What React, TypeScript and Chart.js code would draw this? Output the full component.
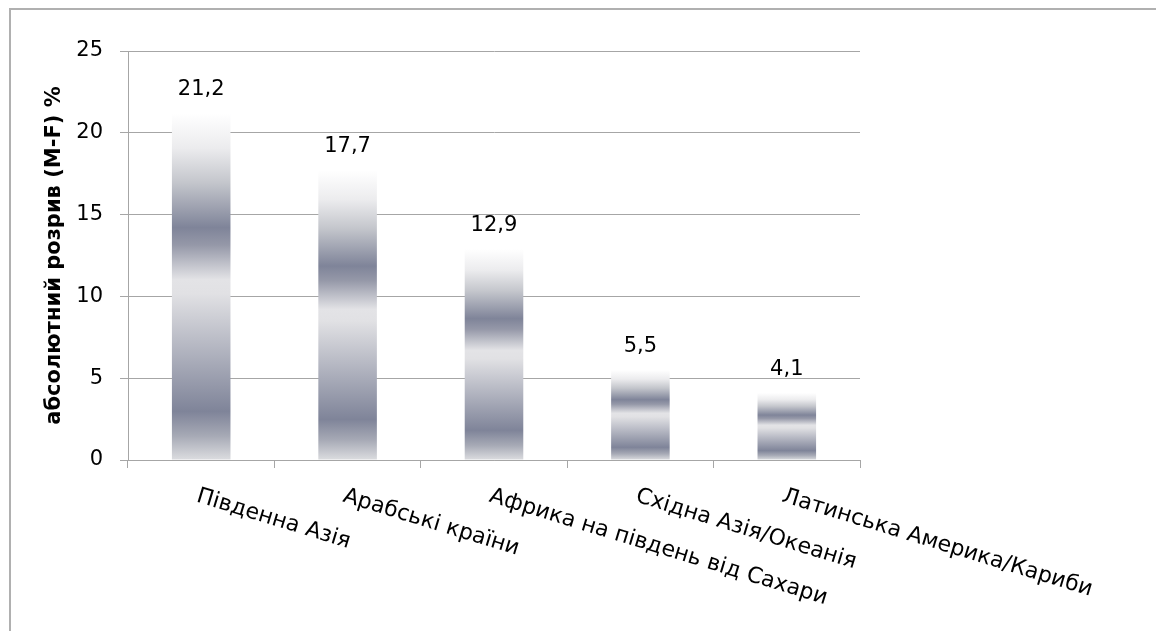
import React, { useEffect, useRef } from 'react';
import { Chart, registerables } from 'chart.js';

Chart.register(...registerables);

const categories = [
  'Південна Азія',
  'Арабські країни',
  'Африка на південь від Сахари',
  'Східна Азія/Океанія',
  'Латинська Америка/Кариби',
];
const gapValues = [21.2, 17.7, 12.9, 5.5, 4.1];
const yTicks = [0, 5, 10, 15, 20, 25];
const axisTitle = 'абсолютний розрив (M-F) %';

const W = 1156;
const H = 631;
const AREA = { left: 128, right: 860, top: 51, bottom: 460 };
const FONT = '"DejaVu Sans", "Noto Sans", sans-serif';
const GRID = '#a6a6a6';
const LABEL_ANGLE = 17;

function barGradient(ctx: CanvasRenderingContext2D, top: number, base: number) {
  const g = ctx.createLinearGradient(0, top, 0, base);
  g.addColorStop(0, '#ffffff');
  g.addColorStop(0.1, '#ececee');
  g.addColorStop(0.2, '#c4c6cc');
  g.addColorStop(0.33, '#7f8499');
  g.addColorStop(0.38, '#9598a8');
  g.addColorStop(0.48, '#e3e3e6');
  g.addColorStop(0.52, '#e1e1e4');
  g.addColorStop(0.86, '#7f8499');
  g.addColorStop(0.93, '#a6a9b5');
  g.addColorStop(1, '#dcdde0');
  return g;
}

const framePlugin = {
  id: 'frame',
  beforeDraw(chart: any) {
    const { ctx } = chart;
    ctx.save();
    ctx.fillStyle = '#ffffff';
    ctx.fillRect(0, 0, W, H);
    ctx.fillStyle = '#b0b0b0';
    ctx.fillRect(9, 8, W - 9, 2);
    ctx.fillRect(9, 8, 2, H - 8);
    ctx.restore();
  },
};

const xLabelPlugin = {
  id: 'xLabels',
  afterDraw(chart: any) {
    const { ctx, scales, chartArea } = chart;
    const xs = scales.x;
    const size = 22;
    ctx.save();
    ctx.font = `${size}px ${FONT}`;
    ctx.fillStyle = '#000000';
    ctx.textAlign = 'left';
    ctx.textBaseline = 'alphabetic';
    categories.forEach((label, i) => {
      const px = xs.getPixelForValue(i);
      ctx.save();
      ctx.translate(px - 1, chartArea.bottom + 26);
      ctx.rotate((LABEL_ANGLE * Math.PI) / 180);
      ctx.fillText(label, 0, size * 0.73);
      ctx.restore();
    });
    ctx.restore();
  },
};

const valueLabelPlugin = {
  id: 'valueLabels',
  afterDatasetsDraw(chart: any) {
    const { ctx } = chart;
    const meta = chart.getDatasetMeta(0);
    ctx.save();
    ctx.font = `21px ${FONT}`;
    ctx.fillStyle = '#000000';
    ctx.textAlign = 'center';
    ctx.textBaseline = 'alphabetic';
    meta.data.forEach((el: any, i: number) => {
      const txt = String(gapValues[i]).replace('.', ',');
      ctx.fillText(txt, el.x, el.y - 18);
    });
    ctx.restore();
  },
};

export default function App() {
  const ref = useRef<HTMLCanvasElement | null>(null);

  useEffect(() => {
    if (!ref.current) return;
    Chart.defaults.font.family = FONT;
    const chart = new Chart(ref.current, {
      type: 'bar',
      data: {
        labels: categories,
        datasets: [
          {
            data: gapValues,
            borderWidth: 0,
            barPercentage: 0.4,
            categoryPercentage: 1.0,
            backgroundColor: (c: any) => {
              const ys = c.chart.scales && c.chart.scales.y;
              if (!ys || c.type !== 'data') return '#a0a3b0';
              const top = ys.getPixelForValue(c.raw);
              const base = ys.getPixelForValue(0);
              if (!Number.isFinite(top) || !Number.isFinite(base)) return '#a0a3b0';
              return barGradient(c.chart.ctx, top, base);
            },
          },
        ],
      },
      options: {
        responsive: false,
        animation: false,
        events: [],
        layout: {
          padding: { left: 0, top: AREA.top, right: W - AREA.right, bottom: 0 },
        },
        plugins: {
          legend: { display: false },
          tooltip: { enabled: false },
        },
        scales: {
          x: {
            ticks: { display: false },
            grid: {
              display: true,
              drawOnChartArea: false,
              drawTicks: true,
              tickLength: 8,
              color: GRID,
              offset: true,
            },
            border: { color: GRID },
            afterFit(s: any) {
              s.height = H - AREA.bottom;
            },
          },
          y: {
            min: 0,
            max: 25,
            afterBuildTicks(s: any) {
              s.ticks = yTicks.map((v) => ({ value: v }));
            },
            ticks: {
              padding: 17,
              color: '#000000',
              font: { family: FONT, size: 21 },
            },
            grid: { color: GRID, tickLength: 8, lineWidth: 1 },
            border: { color: GRID },
            title: {
              display: true,
              text: axisTitle,
              color: '#000000',
              font: { family: FONT, size: 21, weight: 'bold' },
              padding: { top: 42, bottom: 0 },
            },
            afterFit(s: any) {
              s.width = AREA.left;
            },
          },
        },
      },
      plugins: [framePlugin, valueLabelPlugin, xLabelPlugin],
    } as any);
    return () => chart.destroy();
  }, []);

  return (
    <div style={{ position: 'fixed', left: 0, top: 0, width: W, height: H, background: '#fff' }}>
      <canvas ref={ref} width={W} height={H} style={{ display: 'block', width: W, height: H }} />
    </div>
  );
}
